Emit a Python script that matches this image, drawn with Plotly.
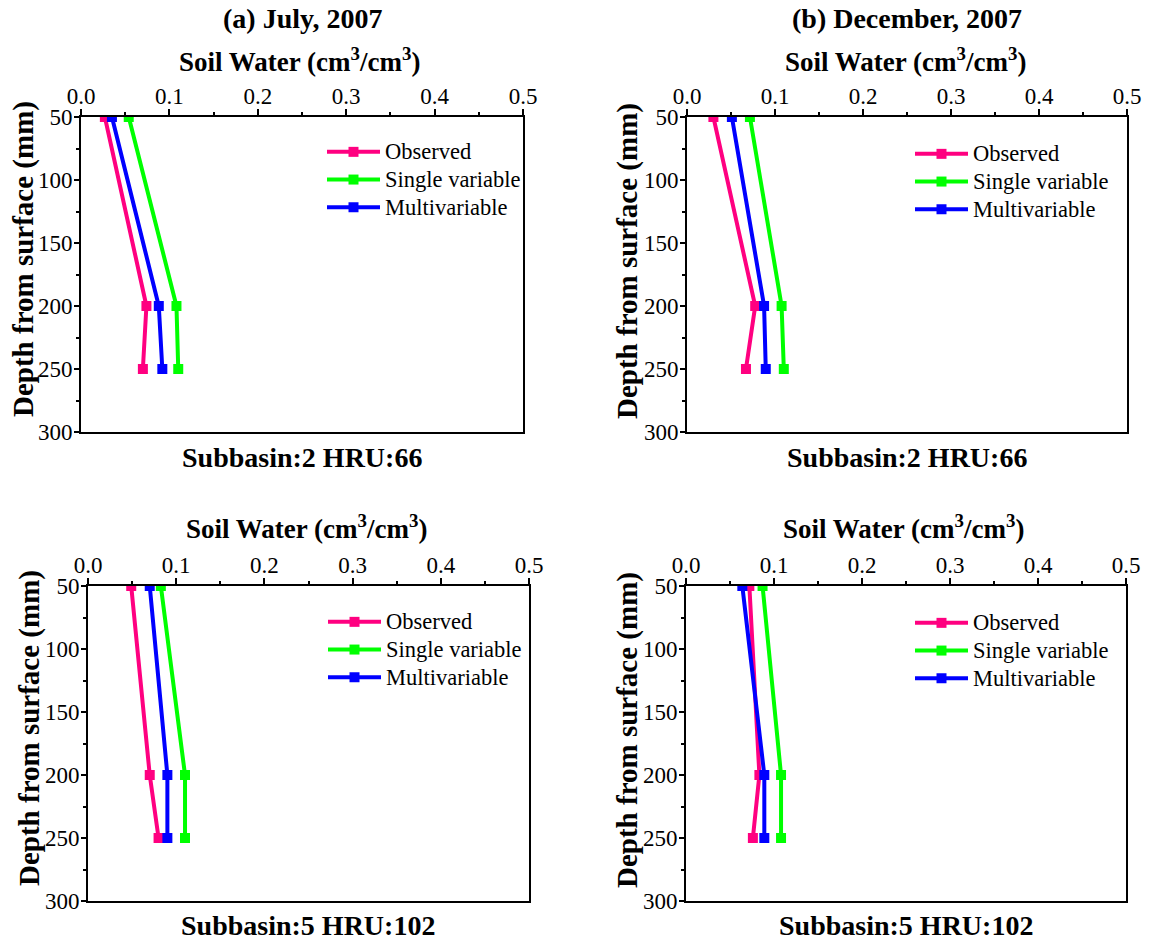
import plotly.graph_objects as go

depth = [50, 200, 250]
series_names = ["Observed", "Single variable", "Multivariable"]
series_colors = ["#FF0080", "#00FF00", "#0000FF"]

# Panel (a) July 2007, Subbasin 2 HRU 66
a_observed = [0.027, 0.074, 0.070]
a_single = [0.054, 0.108, 0.110]
a_multi = [0.035, 0.088, 0.092]
# Panel (b) December 2007, Subbasin 2 HRU 66
b_observed = [0.030, 0.0775, 0.067]
b_single = [0.0715, 0.1075, 0.110]
b_multi = [0.051, 0.0876, 0.0895]
# Panel (c) July 2007, Subbasin 5 HRU 102
c_observed = [0.049, 0.070, 0.080]
c_single = [0.0826, 0.110, 0.110]
c_multi = [0.070, 0.090, 0.090]
# Panel (d) December 2007, Subbasin 5 HRU 102
d_observed = [0.072, 0.0834, 0.076]
d_single = [0.087, 0.108, 0.108]
d_multi = [0.064, 0.089, 0.089]

panel_titles = ["(a) July, 2007", "(b) December, 2007", "", ""]
captions = ["Subbasin:2 HRU:66", "Subbasin:2 HRU:66", "Subbasin:5 HRU:102", "Subbasin:5 HRU:102"]
x_title = "Soil Water (cm<sup>3</sup>/cm<sup>3</sup>)"
y_title = "Depth from surface (mm)"
x_tick_vals = [0.0, 0.1, 0.2, 0.3, 0.4, 0.5]
y_tick_vals = [50, 100, 150, 200, 250, 300]

W, H = 1150, 941
FONT = "Times New Roman, Liberation Serif, serif"


def px(x):
    return x / W


def py(y):
    return 1 - y / H


# page-pixel boxes (left, right, top, bottom)
boxes = [(81, 523, 117, 432), (687, 1127, 117, 432), (88, 529, 586, 901), (686, 1126, 586, 901)]
legend_pos = [(322, 133), (910, 135), (323, 603), (910, 604)]
title_pos = [(302, 18), (907, 18)]
xtitle_pos = [(299, 60), (905, 60), (306, 527), (903, 527)]
ytitle_pos = [(24, 259), (627, 261), (29, 728), (627, 730)]
caption_pos = [(302, 457), (907, 457), (308, 925), (906, 925)]

panels = [
    (a_observed, a_single, a_multi),
    (b_observed, b_single, b_multi),
    (c_observed, c_single, c_multi),
    (d_observed, d_single, d_multi),
]

fig = go.Figure()
layout = dict(
    width=W, height=H,
    margin=dict(l=0, r=0, t=0, b=0, autoexpand=False),
    paper_bgcolor="white", plot_bgcolor="white",
    font=dict(family=FONT, color="black"),
    annotations=[],
)


def add_text(text, x, y, size, angle=0):
    layout["annotations"].append(dict(
        text=text, x=px(x), y=py(y), xref="paper", yref="paper",
        xanchor="center", yanchor="middle", showarrow=False, textangle=angle,
        font=dict(family=FONT, size=size, weight="bold", color="black"),
    ))


for i, (vals, box) in enumerate(zip(panels, boxes)):
    k = "" if i == 0 else str(i + 1)
    xa, ya = "x" + k, "y" + k
    leg = "legend" + k
    for name, color, v in zip(series_names, series_colors, vals):
        fig.add_trace(go.Scatter(
            x=v, y=depth,
            name='<span style="font-size:22.5px">' + name + '</span>',
            mode="lines+markers",
            line=dict(color=color, width=4),
            marker=dict(symbol="square", size=10, color=color),
            xaxis=xa, yaxis=ya, legend=leg, cliponaxis=True,
        ))
    l, r, t, b = box
    layout["xaxis" + k] = dict(
        domain=[px(l), px(r)], anchor=ya, side="top", automargin=False,
        range=[0, 0.5], tickvals=x_tick_vals, tickformat=".1f",
        ticks="outside", ticklen=6, tickwidth=1.5, tickcolor="black",
        minor=dict(dtick=0.05, ticks="outside", ticklen=3, tickcolor="black"),
        showline=True, linecolor="black", linewidth=2, mirror=True,
        showgrid=False, zeroline=False,
        tickfont=dict(family=FONT, size=23),
        ticklabelstandoff=-4,
    )
    layout["yaxis" + k] = dict(
        domain=[py(b), py(t)], anchor=xa, automargin=False,
        range=[300, 50], tickvals=y_tick_vals,
        ticks="outside", ticklen=5, tickwidth=1.5, tickcolor="black",
        minor=dict(dtick=25, ticks="outside", ticklen=3, tickcolor="black"),
        showline=True, linecolor="black", linewidth=2, mirror=True,
        showgrid=False, zeroline=False,
        tickfont=dict(family=FONT, size=23),
        ticklabelstandoff=-3,
    )
    lx, ly = legend_pos[i]
    layout[leg] = dict(
        x=px(lx), y=py(ly), xanchor="left", yanchor="top",
        bgcolor="rgba(0,0,0,0)", borderwidth=0, itemwidth=53,
        font=dict(family=FONT, size=19, color="black"), tracegroupgap=0,
    )
    if panel_titles[i]:
        add_text(panel_titles[i], *title_pos[i], 28)
    add_text(x_title, *xtitle_pos[i], 27)
    add_text(y_title, *ytitle_pos[i], 29, angle=-90)
    add_text(captions[i], *caption_pos[i], 28)

fig.update_layout(**layout)
fig.write_html("out.html", config={"displayModeBar": False},
               post_script="document.body.style.margin='0';")
